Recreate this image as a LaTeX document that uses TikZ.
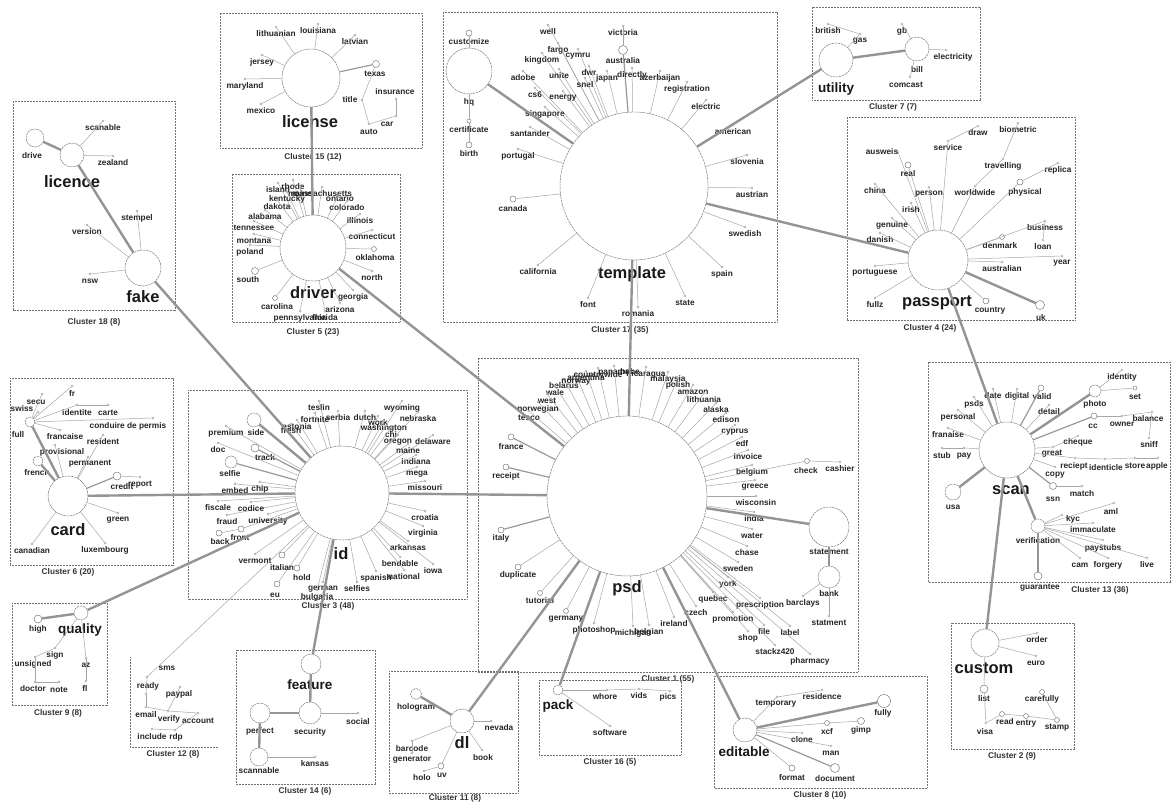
\documentclass[tikz,border=0pt]{standalone}
\usepackage{fontspec}
\setmainfont{Liberation Sans}
\newcommand\lfA[5]{\node[ld] (#2) at (#3,#4-7) {};\node[lbl] (#2t) at (#3,#4) {#5};\draw[ed] (#1) -- (#2);}
\newcommand\lfD[5]{\node[ld] (#2) at (#3) {};\node[lbl] (#2t) at (#4) {#5};\draw[ed] (#1) -- (#2);}
\newcommand\lfO[7][ed]{\node[od=#5] (#3) at (#4) {};\node[lbl] (#3t) at (#6) {#7};\draw[#1] (#2) -- (#3);}
\begin{document}
\begin{tikzpicture}[x=1pt,y=-1pt,
  hub/.style={circle,draw=black!55,line width=0.45pt,dash pattern=on 2.5pt off 0.7pt,inner sep=0pt,minimum size=#1},
  od/.style={circle,draw=black!55,line width=0.45pt,fill=white,inner sep=0pt,minimum size=#1},
  ld/.style={circle,draw=black!40,fill=white,line width=0.3pt,inner sep=0pt,minimum size=2.4pt},
  lbl/.style={font=\fontsize{8.3}{9}\selectfont\bfseries,text=black!85,inner sep=0.5pt},
  bigl/.style={font=\fontsize{16.5}{18}\selectfont\bfseries,text=black!90,inner sep=0pt},
  midl/.style={font=\fontsize{13.5}{15}\selectfont\bfseries,text=black!90,inner sep=0pt},
  clab/.style={font=\fontsize{8.3}{9}\selectfont\bfseries,text=black!80,inner sep=0pt},
  cbox/.style={draw=black!55,line width=0.5pt,dash pattern=on 0.7pt off 0.8pt},
  ed/.style={draw=black!35,line width=0.5pt},
  med/.style={draw=black!40,line width=1.2pt},
  ted/.style={draw=black!42,line width=2.4pt}]
\useasboundingbox (0,0) rectangle (1173,802);
\fill[white] (0,0) rectangle (1173,802);
% ---------- cluster boxes ----------
\draw[cbox] (13,101) rectangle (175,310);   \node[clab] (c18) at (94,322) {Cluster 18 (8)};
\draw[cbox] (220,13) rectangle (422,148);   \node[clab] (c15) at (313,157) {Cluster 15 (12)};
\draw[cbox] (232,174) rectangle (400,322);  \node[clab] (c5) at (313,332) {Cluster 5 (23)};
\draw[cbox] (443,12) rectangle (777,322);   \node[clab] (c17) at (620,330) {Cluster 17 (35)};
\draw[cbox] (812,7) rectangle (980,100);    \node[clab] (c7) at (893,107) {Cluster 7 (7)};
\draw[cbox] (847,117) rectangle (1075,320); \node[clab] (c4) at (930,328) {Cluster 4 (24)};
\draw[cbox] (10,378) rectangle (173,565);   \node[clab] (c6) at (68,572) {Cluster 6 (20)};
\draw[cbox] (188,390) rectangle (467,599);  \node[clab] (c3) at (328,606) {Cluster 3 (48)};
\draw[cbox] (478,358) rectangle (858,672);  \node[clab] (c1) at (668,679) {Cluster 1 (55)};
\draw[cbox] (928,362) rectangle (1170,582); \node[clab] (c13) at (1100,590) {Cluster 13 (36)};
\draw[cbox] (12,603) rectangle (107,705);   \node[clab] (c9) at (58,713) {Cluster 9 (8)};
\draw[cbox] (130,657) -- (130,747) -- (218,747); \node[clab] (c12) at (173,754) {Cluster 12 (8)};
\draw[cbox] (236,650) rectangle (375,784);  \node[clab] (c14) at (305,791) {Cluster 14 (6)};
\draw[cbox] (389,671) rectangle (518,793);  \node[clab] (c11) at (455,798) {Cluster 11 (8)};
\draw[cbox] (539,680) rectangle (681,755);  \node[clab] (c16) at (610,762) {Cluster 16 (5)};
\draw[cbox] (714,676) rectangle (927,788);  \node[clab] (c8) at (820,795) {Cluster 8 (10)};
\draw[cbox] (951,623) rectangle (1074,749); \node[clab] (c2) at (1012,756) {Cluster 2 (9)};
% ---------- hubs ----------
\node[hub=160] (psd) at (627,496) {};
\node[hub=148] (template) at (634,186) {};
\node[hub=94] (id) at (342,493) {};
\node[hub=60] (passport) at (938,260) {};
\node[hub=56] (scan) at (1007,450) {};
\node[hub=66] (driver) at (313,248) {};
\node[hub=58] (license) at (311,78) {};
\node[hub=40] (card) at (68,496) {};
\node[hub=36] (fake) at (143,268) {};
\node[hub=24] (licence) at (72,155) {};
\node[hub=18] (drive) at (35,138) {};
\node[hub=34] (utility) at (836,60) {};
\node[hub=24] (bill) at (917,49) {};
\node[hub=14] (quality) at (81,613) {};
\node[hub=20] (feature) at (311,664) {};
\node[hub=22] (security) at (310,713) {};
\node[hub=20] (perfect) at (260,713) {};
\node[hub=18] (scannable) at (259,757) {};
\node[hub=24] (dl) at (462,721) {};
\node[hub=11] (hologram) at (416,694) {};
\node[hub=10] (pack) at (558,690) {};
\node[hub=24] (editable) at (745,730) {};
\node[hub=28] (custom) at (985,643) {};
\node[hub=40] (statement) at (829,527) {};
\node[hub=22] (bank) at (829,577) {};
\node[hub=46] (hq) at (469,71) {};
\node[hub=16] (usa) at (953,492) {};
\node[hub=14] (verification) at (1038,526) {};
\node[hub=12] (photo) at (1095,391) {};
\node[hub=14] (side) at (254,420) {};
\node[hub=12] (selfie) at (231,462) {};
\node[hub=10] (french) at (38,461) {};
\node[hub=10] (full) at (30,422) {};
% ---------- hub labels ----------
\node[bigl] (psdL) at (627,588) {psd};
\node[bigl] (templateL) at (632,274) {template};
\node[bigl] (idL) at (341,554) {id};
\node[bigl] (passportL) at (937,303) {passport};
\node[bigl] (scanL) at (1011,490) {scan};
\node[bigl] (driverL) at (313,293) {driver};
\node[bigl] (licenseL) at (310,122) {license};
\node[bigl] (cardL) at (68,530) {card};
\node[bigl] (fakeL) at (143,297) {fake};
\node[bigl] (licenceL) at (72,182) {licence};
\node[bigl] (customL) at (984,668) {custom};
\node[bigl] (dlL) at (462,743) {dl};
\node[midl] (utilityL) at (836,89) {utility};
\node[midl] (qualityL) at (80,630) {quality};
\node[midl] (featureL) at (310,685) {feature};
\node[midl] (editableL) at (744,752) {editable};
\node[midl] (packL) at (558,706) {pack};
\node[lbl] (driveL) at (32,156) {drive};
\node[lbl] (billL) at (917,70) {bill};
\node[lbl] (hqL) at (469,102) {hq};
\node[lbl] (statementL) at (829,552) {statement};
\node[lbl] (bankL) at (829,594) {bank};
\node[lbl] (usaL) at (953,507) {usa};
\node[lbl] (verificationL) at (1038,541) {verification};
\node[lbl] (photoL) at (1095,404) {photo};
\node[lbl] (securityL) at (310,732) {security};
\node[lbl] (perfectL) at (260,731) {perfect};
\node[lbl] (scannableL) at (259,771) {scannable};
\node[lbl] (hologramL) at (416,707) {hologram};
\node[lbl] (sideL) at (256,433) {side};
\node[lbl] (selfieL) at (230,474) {selfie};
\node[lbl] (frenchL) at (37,473) {french};
\node[lbl] (fullL) at (18,435) {full};
% ---------- cluster 18 ----------
\lfA{licence}{scanable}{103}{128}{scanable}
\lfA{licence}{zealand}{113}{163}{zealand}
\lfA{fake}{stempel}{137}{218}{stempel}
\lfA{fake}{version}{87}{232}{version}
\lfA{fake}{nsw}{90}{281}{nsw}
% ---------- cluster 15 ----------
\lfA{license}{lithuanian}{276}{34}{lithuanian}
\lfA{license}{louisiana}{318}{31}{louisiana}
\lfA{license}{latvian}{355}{42}{latvian}
\lfA{license}{jersey}{262}{62}{jersey}
\lfA{license}{maryland}{245}{86}{maryland}
\lfA{license}{mexico}{261}{111}{mexico}
\lfO[med]{license}{texas}{376,64}{7}{375,74}{texas}
\lfD{texas}{title}{362,100}{350,100}{title}
\lfD{title}{auto}{369,124}{369,132}{auto}
\lfD{auto}{car}{396,116}{387,124}{car}
\lfD{car}{insurance}{396,99}{395,92}{insurance}
% ---------- cluster 5 ----------
\lfA{driver}{rhode}{293}{187}{rhode}
\lfA{driver}{island}{278}{190}{island}
\lfA{driver}{drmaine}{300}{194}{maine}
\lfA{driver}{massachusetts}{322}{194}{massachusetts}
\lfA{driver}{kentucky}{287}{199}{kentucky}
\lfA{driver}{ontario}{340}{199}{ontario}
\lfA{driver}{dakota}{277}{207}{dakota}
\lfA{driver}{colorado}{347}{208}{colorado}
\lfA{driver}{alabama}{265}{217}{alabama}
\lfA{driver}{illinois}{360}{221}{illinois}
\lfA{driver}{tennessee}{254}{228}{tennessee}
\lfA{driver}{connecticut}{372}{237}{connecticut}
\lfA{driver}{montana}{254}{241}{montana}
\lfA{driver}{poland}{250}{252}{poland}
\lfO{driver}{oklahoma}{374,249}{5}{375,258}{oklahoma}
\lfA{driver}{north}{372}{278}{north}
\lfO{driver}{south}{255,271}{7}{248,280}{south}
\lfA{driver}{georgia}{353}{297}{georgia}
\lfO{driver}{carolina}{275,298}{5}{277,307}{carolina}
\lfA{driver}{arizona}{340}{310}{arizona}
\lfA{driver}{pennsylvania}{300}{318}{pennsylvania}
\lfA{driver}{florida}{325}{318}{florida}
% ---------- cluster 17 ----------
\lfA{template}{well}{548}{32}{well}
\lfO[med]{template}{australia}{623,50}{9}{623,61}{australia}
\lfA{australia}{victoria}{623}{33}{victoria}
\lfA{template}{fargo}{558}{50}{fargo}
\lfA{template}{cymru}{578}{56}{cymru}
\lfA{template}{kingdom}{542}{60}{kingdom}
\lfA{template}{adobe}{523}{78}{adobe}
\lfA{template}{unite}{559}{76}{unite}
\lfA{template}{dwr}{589}{73}{dwr}
\lfA{template}{snel}{585}{85}{snel}
\lfA{template}{japan}{607}{78}{japan}
\lfA{template}{directly}{632}{75}{directly}
\lfA{template}{azerbaijan}{660}{78}{azerbaijan}
\lfA{template}{registration}{687}{89}{registration}
\lfA{template}{electric}{706}{107}{electric}
\lfA{template}{american}{733}{132}{american}
\lfA{template}{slovenia}{747}{162}{slovenia}
\lfA{template}{austrian}{752}{195}{austrian}
\lfA{template}{swedish}{745}{234}{swedish}
\lfA{template}{spain}{722}{274}{spain}
\lfA{template}{state}{685}{303}{state}
\lfA{template}{romania}{638}{314}{romania}
\lfA{template}{font}{588}{305}{font}
\lfA{template}{california}{538}{272}{california}
\lfO{template}{canada}{513,199}{6}{513,209}{canada}
\lfA{template}{portugal}{518}{156}{portugal}
\lfA{template}{santander}{530}{134}{santander}
\lfA{template}{singapore}{545}{114}{singapore}
\lfA{template}{cssix}{535}{95}{cs6}
\lfA{template}{energy}{563}{98}{energy}
\lfO{hq}{customize}{469,33}{6}{469,42}{customize}
\lfO{hq}{certificate}{469,121}{4}{469,130}{certificate}
\lfO{certificate}{birth}{469,145}{6}{469,154}{birth}
% ---------- cluster 7 ----------
\lfA{utility}{gas}{860}{41}{gas}
\lfA{gas}{british}{828}{31}{british}
\lfA{bill}{gb}{902}{31}{gb}
\lfD{bill}{electricity}{946,50}{953,57}{electricity}
\lfD{bill}{comcast}{910,77}{906,85}{comcast}
% ---------- cluster 4 ----------
\lfA{passport}{service}{948}{148}{service}
\lfA{service}{draw}{978}{133}{draw}
\lfD{passport}{ausweis}{898,152}{882,152}{ausweis}
\lfO{passport}{real}{908,165}{6}{908,174}{real}
\lfA{passport}{person}{929}{194}{person}
\lfA{passport}{worldwide}{975}{193}{worldwide}
\lfA{worldwide}{travelling}{1003}{166}{travelling}
\lfA{travelling}{biometric}{1018}{130}{biometric}
\lfA{passport}{china}{875}{191}{china}
\lfA{passport}{irish}{911}{210}{irish}
\lfA{passport}{genuine}{892}{225}{genuine}
\lfA{passport}{danish}{880}{240}{danish}
\lfA{passport}{portuguese}{875}{273}{portuguese}
\lfA{passport}{fullz}{875}{305}{fullz}
\lfO{passport}{country}{986,301}{6}{990,311}{country}
\lfO{passport}{physical}{1020,182}{6}{1025,192}{physical}
\lfA{physical}{replica}{1058}{170}{replica}
\lfO{passport}{denmark}{1002,237}{5}{1000,246}{denmark}
\lfA{passport}{australian}{1002}{269}{australian}
\lfA{passport}{business}{1045}{228}{business}
\lfA{business}{loan}{1043}{247}{loan}
\lfA{passport}{year}{1062}{263}{year}
\lfO{passport}{uk}{1040,305}{9}{1041,318}{uk}
% ---------- cluster 13 ----------
\lfD{scan}{pay}{964,448}{964,456}{pay}
\lfD{pay}{stub}{942,448}{942,456}{stub}
\lfA{scan}{franaise}{948}{435}{franaise}
\lfA{scan}{personal}{958}{417}{personal}
\lfA{scan}{psds}{974}{404}{psds}
\lfA{scan}{date}{993}{396}{date}
\lfA{scan}{digital}{1017}{396}{digital}
\lfO[med]{scan}{valid}{1041,388}{6}{1042,397}{valid}
\lfA{scan}{detail}{1049}{412}{detail}
\lfA{photo}{identity}{1122}{377}{identity}
\lfO{photo}{set}{1135,388}{4}{1135,397}{set}
\lfO[med]{scan}{cc}{1094,416}{6}{1093,426}{cc}
\lfD{cc}{owner}{1122,416}{1122,424}{owner}
\lfD{owner}{balance}{1152,412}{1148,419}{balance}
\lfD{balance}{sniff}{1149,438}{1149,445}{sniff}
\lfD{scan}{great}{1053,447}{1052,454}{great}
\lfD{great}{cheque}{1078,436}{1078,442}{cheque}
\lfD{scan}{reciept}{1075,458}{1074,466}{reciept}
\lfD{reciept}{identicle}{1105,459}{1106,468}{identicle}
\lfD{identicle}{store}{1135,458}{1135,466}{store}
\lfD{store}{apple}{1158,458}{1157,466}{apple}
\lfD{scan}{copy}{1055,467}{1055,475}{copy}
\lfO[med]{scan}{ssn}{1053,486}{7}{1053,499}{ssn}
\lfD{ssn}{match}{1082,486}{1082,494}{match}
\lfD{verification}{aml}{1114,503}{1111,512}{aml}
\lfD{verification}{kyc}{1062,515}{1073,519}{kyc}
\lfD{verification}{immaculate}{1093,523}{1093,530}{immaculate}
\lfD{verification}{paystubs}{1103,540}{1103,548}{paystubs}
\lfA{verification}{cam}{1080}{565}{cam}
\lfA{verification}{forgery}{1108}{565}{forgery}
\lfA{verification}{live}{1147}{565}{live}
\lfO{verification}{guarantee}{1038,576}{8}{1040,588}{guarantee}
% ---------- cluster 6 ----------
\lfD{full}{swiss}{38,412}{22,409}{swiss}
\lfD{full}{secu}{42,394}{36,402}{secu}
\lfD{full}{fr}{72,386}{72,393}{fr}
\lfD{full}{identite}{77,405}{77,413}{identite}
\lfD{identite}{carte}{108,405}{108,413}{carte}
\lfD{full}{conduire}{153,418}{128,426}{conduire de permis}
\lfD{full}{francaise}{60,430}{65,437}{francaise}
\lfD{card}{provisional}{55,445}{62,452}{provisional}
\lfD{card}{resident}{103,435}{103,442}{resident}
\lfD{card}{permanent}{88,457}{90,464}{permanent}
\lfO[med]{card}{credit}{117,476}{8}{122,487}{credit}
\lfD{credit}{report}{140,477}{140,485}{report}
\lfA{card}{green}{118}{520}{green}
\lfA{card}{luxembourg}{105}{550}{luxembourg}
\lfA{card}{canadian}{32}{551}{canadian}
% ---------- cluster 3 ----------
\lfA{id}{teslin}{319}{408}{teslin}
\lfA{id}{estonia}{297}{427}{estonia}
\lfA{id}{fresh}{291}{431}{fresh}
\lfA{id}{fortnite}{315}{420}{fortnite}
\lfA{id}{serbia}{338}{418}{serbia}
\lfA{id}{dutch}{365}{418}{dutch}
\lfA{id}{work}{378}{423}{work}
\lfA{id}{washington}{384}{428}{washington}
\lfA{id}{chi}{391}{435}{chi}
\lfA{id}{oregon}{398}{442}{oregon}
\lfA{id}{delaware}{433}{442}{delaware}
\lfA{id}{wyoming}{402}{408}{wyoming}
\lfA{id}{nebraska}{418}{419}{nebraska}
\lfA{id}{idmaine}{408}{451}{maine}
\lfA{id}{indiana}{416}{462}{indiana}
\lfA{id}{mega}{417}{474}{mega}
\lfA{id}{missouri}{425}{488}{missouri}
\lfA{id}{croatia}{425}{518}{croatia}
\lfA{id}{virginia}{423}{533}{virginia}
\lfA{id}{arkansas}{408}{548}{arkansas}
\lfA{id}{bendable}{400}{564}{bendable}
\lfA{id}{iowa}{433}{571}{iowa}
\lfA{id}{national}{404}{577}{national}
\lfA{id}{spanish}{376}{578}{spanish}
\lfA{id}{selfies}{357}{589}{selfies}
\lfA{id}{german}{323}{589}{german}
\lfA{id}{bulgaria}{317}{597}{bulgaria}
\lfO{id}{hold}{297,568}{6}{302,578}{hold}
\lfO{id}{eu}{277,584}{6}{275,595}{eu}
\lfO{id}{italian}{282,555}{6}{282,568}{italian}
\lfA{id}{vermont}{255}{561}{vermont}
\lfO{id}{front}{241,529}{6}{240,538}{front}
\lfO{front}{back}{219,533}{6}{220,542}{back}
\lfA{id}{fraud}{227}{522}{fraud}
\lfA{id}{university}{268}{521}{university}
\lfA{id}{fiscale}{218}{508}{fiscale}
\lfA{id}{codice}{251}{509}{codice}
\lfA{id}{embed}{235}{491}{embed}
\lfA{id}{chip}{260}{489}{chip}
\lfA{id}{doc}{218}{450}{doc}
\lfO{id}{track}{255,448}{8}{265,458}{track}
\lfA{id}{premium}{226}{433}{premium}
% ---------- cluster 1 ----------
\lfA{psd}{belarus}{564}{386}{belarus}
\lfA{psd}{wale}{555}{393}{wale}
\lfA{psd}{west}{547}{401}{west}
\lfA{psd}{norwegian}{538}{409}{norwegian}
\lfA{psd}{tesco}{529}{418}{tesco}
\lfA{psd}{norway}{576}{382}{norway}
\lfA{psd}{argentina}{586}{378}{argentina}
\lfA{psd}{countrywide}{598}{375}{countrywide}
\lfA{psd}{panama}{614}{373}{panama}
\lfA{psd}{bebe}{630}{372}{bebe}
\lfA{psd}{nicaragua}{646}{374}{nicaragua}
\lfA{psd}{malaysia}{668}{379}{malaysia}
\lfA{psd}{polish}{678}{385}{polish}
\lfA{psd}{amazon}{693}{392}{amazon}
\lfA{psd}{lithuania}{704}{400}{lithuania}
\lfA{psd}{alaska}{716}{410}{alaska}
\lfA{psd}{edison}{726}{420}{edison}
\lfA{psd}{cyprus}{735}{432}{cyprus}
\lfA{psd}{edf}{742}{444}{edf}
\lfA{psd}{invoice}{748}{457}{invoice}
\lfA{psd}{belgium}{752}{472}{belgium}
\lfA{psd}{greece}{755}{487}{greece}
\lfA{psd}{wisconsin}{756}{503}{wisconsin}
\lfA{psd}{india}{754}{519}{india}
\lfA{psd}{water}{752}{536}{water}
\lfA{psd}{chase}{747}{553}{chase}
\lfA{psd}{sweden}{738}{569}{sweden}
\lfA{psd}{york}{728}{584}{york}
\lfA{psd}{quebec}{713}{599}{quebec}
\lfA{psd}{prescription}{760}{605}{prescription}
\lfA{psd}{czech}{696}{613}{czech}
\lfA{psd}{promotion}{733}{619}{promotion}
\lfA{psd}{file}{764}{632}{file}
\lfA{psd}{shop}{748}{638}{shop}
\lfA{psd}{labelw}{790}{633}{label}
\lfA{psd}{stackz}{775}{652}{stackz420}
\lfA{psd}{pharmacy}{810}{661}{pharmacy}
\lfA{psd}{ireland}{674}{624}{ireland}
\lfA{psd}{belgian}{649}{632}{belgian}
\lfA{psd}{michigan}{633}{633}{michigan}
\lfA{psd}{photoshop}{594}{630}{photoshop}
\lfO{psd}{germany}{566,611}{5}{566,619}{germany}
\lfO{psd}{tutorial}{540,593}{5}{540,601}{tutorial}
\lfO{psd}{duplicate}{518,567}{6}{518,575}{duplicate}
\lfO[med]{psd}{italy}{501,530}{6}{501,538}{italy}
\lfO[med]{psd}{receipt}{506,467}{6}{506,476}{receipt}
\lfO[med]{psd}{france}{511,437}{6}{511,447}{france}
\lfO{psd}{check}{807,461}{5}{806,471}{check}
\lfD{check}{cashier}{840,462}{840,469}{cashier}
\lfD{bank}{barclays}{803,596}{803,603}{barclays}
\lfD{bank}{statment}{829,616}{829,623}{statment}
% ---------- cluster 9 ----------
\lfO{quality}{high}{38,619}{8}{38,629}{high}
\lfA{quality}{sign}{55}{655}{sign}
\lfD{sign}{unsigned}{35,657}{33,664}{unsigned}
\lfD{unsigned}{doctor}{35,682}{33,689}{doctor}
\lfD{doctor}{note}{59,682}{59,690}{note}
\lfD{quality}{az}{86,658}{86,665}{az}
\lfD{az}{fl}{86,681}{85,688}{fl}
% ---------- cluster 12 ----------
\lfD{id}{sms}{147,677}{167,668}{sms}
\lfD{sms}{ready}{146,694}{148,686}{ready}
\lfD{ready}{email}{146,707}{146,715}{email}
\lfD{email}{verify}{168,711}{169,719}{verify}
\lfD{verify}{paypal}{180,687}{179,694}{paypal}
\lfD{verify}{account}{198,713}{198,721}{account}
\lfD{account}{rdp}{175,730}{176,737}{rdp}
\lfD{rdp}{include}{152,729}{152,737}{include}
% ---------- cluster 14 ----------
\lfD{security}{social}{358,713}{358,722}{social}
\lfD{scannable}{kansas}{315,757}{315,764}{kansas}
% ---------- cluster 11 ----------
\lfD{dl}{nevada}{491,721}{499,728}{nevada}
\lfD{dl}{book}{482,750}{483,758}{book}
\lfD{dl}{barcode}{412,741}{412,749}{barcode}
\lfD{barcode}{generator}{412,753}{412,760}{generator}
\lfO{dl}{uv}{441,766}{6}{442,775}{uv}
\lfD{uv}{holo}{424,771}{422,778}{holo}
% ---------- cluster 16 ----------
\lfD{pack}{whore}{607,690}{605,697}{whore}
\lfD{whore}{vids}{639,689}{639,696}{vids}
\lfD{vids}{pics}{670,691}{668,697}{pics}
\lfD{pack}{software}{610,726}{610,733}{software}
% ---------- cluster 8 ----------
\lfD{editable}{temporary}{777,697}{776,704}{temporary}
\lfD{temporary}{residence}{822,690}{822,697}{residence}
\lfO{editable}{fully}{884,701}{13}{883,713}{fully}
\lfO{editable}{xcf}{827,723}{5}{827,732}{xcf}
\lfO{xcf}{gimp}{861,721}{7}{861,730}{gimp}
\lfD{editable}{clone}{802,733}{802,740}{clone}
\lfD{editable}{man}{831,746}{831,753}{man}
\lfO{editable}{format}{792,768}{6}{792,778}{format}
\lfO[med]{editable}{document}{835,768}{9}{835,779}{document}
% ---------- cluster 2 ----------
\lfD{custom}{order}{1037,633}{1037,640}{order}
\lfD{custom}{euro}{1036,656}{1036,663}{euro}
\lfO{custom}{list}{984,689}{8}{984,699}{list}
\lfD{list}{visa}{986,723}{985,732}{visa}
\lfO{visa}{read}{1002,714}{5}{1005,722}{read}
\lfO{read}{entry}{1026,716}{5}{1026,724}{entry}
\lfO{entry}{stamp}{1057,720}{5}{1057,728}{stamp}
\lfO{stamp}{carefully}{1042,692}{5}{1042,699}{carefully}
% ---------- thick links ----------
\draw[ted] (license) -- (driver);
\draw[ted] (driver) -- (psd);
\draw[ted] (drive) -- (licence);
\draw[ted] (licence) -- (fake);
\draw[ted] (fake) -- (id);
\draw[ted] (card) -- (id);
\draw[ted] (id) -- (psd);
\draw[ted] (quality) -- (id);
\draw[ted] (feature) -- (id);
\draw[ted] (template) -- (psd);
\draw[ted] (template) -- (utility);
\draw[ted] (template) -- (passport);
\draw[ted] (hq) -- (template);
\draw[ted] (passport) -- (scan);
\draw[ted] (passport) -- (uk);
\draw[ted] (scan) -- (custom);
\draw[ted] (utility) -- (bill);
\draw[ted] (psd) -- (statement);
\draw[ted] (statement) -- (bank);
\draw[ted] (psd) -- (dl);
\draw[ted] (psd) -- (pack);
\draw[ted] (psd) -- (editable);
\draw[ted] (scan) -- (usa);
\draw[ted] (scan) -- (photo);
\draw[ted] (scan) -- (verification);
\draw[ted] (verification) -- (guarantee);
\draw[ted] (feature) -- (security);
\draw[ted] (security) -- (perfect);
\draw[ted] (perfect) -- (scannable);
\draw[ted] (quality) -- (high);
\draw[ted] (dl) -- (hologram);
\draw[ted] (editable) -- (fully);
\draw[ted] (full) -- (card);
\draw[ted] (french) -- (card);
\draw[ted] (id) -- (side);
\draw[med] (id) -- (selfie);
\draw[med] (id) -- (track);
\end{tikzpicture}
\end{document}
